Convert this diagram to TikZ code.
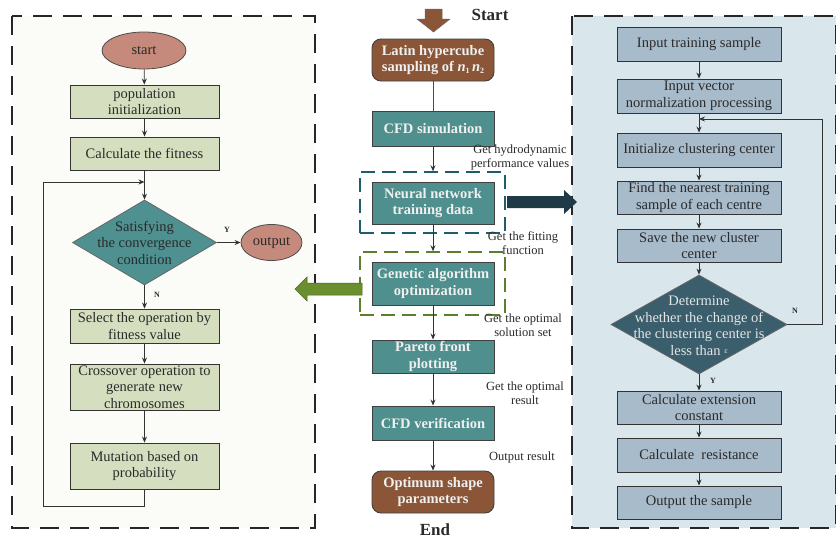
\documentclass[tikz,border=0pt]{standalone}
\usepackage{fontspec}
\setmainfont{Liberation Serif}
\usetikzlibrary{shapes.geometric,arrows.meta}
\definecolor{leftbg}{HTML}{FBFCF7}
\definecolor{rightbg}{HTML}{D9E6EC}
\definecolor{gfill}{HTML}{D5DFBF}
\definecolor{tealL}{HTML}{4E9190}
\definecolor{ellc}{HTML}{C58A7B}
\definecolor{tealM}{HTML}{4F8F8D}
\definecolor{brownM}{HTML}{8A5637}
\definecolor{bfill}{HTML}{A7BBCB}
\definecolor{rdiam}{HTML}{3A5E6C}
\definecolor{bluedashc}{HTML}{1F5C6E}
\definecolor{greendashc}{HTML}{5C7F2C}
\definecolor{darkarrow}{HTML}{1D3A46}
\definecolor{greenarrow}{HTML}{6B8F2F}
\definecolor{txtd}{HTML}{2A2A2A}
\newcommand{\fmain}{\fontsize{14.5pt}{16.5pt}\selectfont}
\newcommand{\flab}{\fontsize{12.5pt}{14pt}\selectfont}
\newcommand{\subn}[1]{\raisebox{-0.3ex}{\fontsize{8pt}{8pt}\selectfont #1}}
\begin{document}
\begin{tikzpicture}[x=1pt,y=-1pt,
  panel/.style={draw=black!85, line width=1.1pt, dash pattern=on 19pt off 11pt},
  gbox/.style={draw=black!80, line width=0.9pt, fill=gfill, minimum width=149pt, align=center, font=\fmain, inner sep=1pt, text=txtd},
  ellL/.style={ellipse, draw=black!70, line width=0.8pt, fill=ellc, minimum width=84pt, minimum height=37pt, inner sep=0pt, font=\fmain, text=txtd},
  diamL/.style={diamond, draw=black!60, line width=0.8pt, fill=tealL, inner sep=0pt},
  diamR/.style={diamond, draw=black!60, line width=0.8pt, fill=rdiam, inner sep=0pt},
  dtext/.style={align=center, font=\fmain, inner sep=0pt},
  tealbox/.style={draw=black!75, line width=0.9pt, fill=tealM, minimum width=122pt, align=center, font=\fmain\bfseries, text=white!94!black, inner sep=1pt},
  brownbox/.style={tealbox, fill=brownM, rounded corners=9pt, minimum height=42pt},
  bbox/.style={draw=black!80, line width=0.9pt, fill=bfill, minimum width=164pt, align=center, font=\fmain, inner sep=1pt, text=txtd},
  dashbox/.style={line width=1.4pt, dash pattern=on 14pt off 7pt, minimum width=145pt, inner sep=0pt},
  lab/.style={align=center, font=\flab, text=txtd, inner sep=0pt},
  yn/.style={font=\fontsize{8pt}{8pt}\selectfont\bfseries, text=txtd, inner sep=0pt},
  big/.style={font=\fontsize{17pt}{17pt}\selectfont\bfseries, text=txtd, inner sep=0pt},
  arr/.style={-{Stealth[length=6pt,width=5pt]}, line width=0.8pt, draw=black!80},
  ln/.style={line width=0.8pt, draw=black!70}]
\useasboundingbox (0,0) rectangle (837,538);
\fill[white] (0,0) rectangle (837,538);
% panels
\draw[panel, fill=leftbg] (12,16) rectangle (315,528);
\draw[panel, fill=rightbg] (572,16) rectangle (835.5,528);

% ---------- left flowchart ----------
\node[ellL] (start) at (144,50.5) {start};
\node[gbox, minimum height=33pt] (pop) at (144.5,101.5) {population\\initialization};
\node[gbox, minimum height=33pt] (fit) at (144.5,153.5) {Calculate the fitness};
\node[diamL, minimum width=144pt, minimum height=85pt] (cond) at (144.5,242.5) {};
\node[dtext, text=txtd] (condt) at (cond.center) {Satisfying\\the convergence\\condition};
\node[ellL, minimum width=61pt, minimum height=36pt] (out) at (271.5,242.5) {output};
\node[gbox, minimum height=34pt] (sel) at (144.5,326) {Select the operation by\\fitness value};
\node[gbox, minimum height=46pt] (cross) at (144.5,387) {Crossover operation to\\generate new\\chromosomes};
\node[gbox, minimum height=46pt] (mut) at (144.5,466) {Mutation based on\\probability};
\coordinate (loopL) at (43,182);
\draw[arr] (start) -- (pop);
\draw[arr] (pop) -- (fit);
\draw[arr] (fit) -- (cond);
\draw[arr] (cond) -- (out);
\node[yn] (ylab) at (227,230) {Y};
\draw[arr] (cond) -- (sel);
\node[yn] (nlab) at (157,295) {N};
\draw[arr] (sel) -- (cross);
\draw[arr] (cross) -- (mut);
\draw[arr] (mut.south) -- ++(0,17) -| (loopL) -- (fit.south |- loopL);

% ---------- middle flowchart ----------
\node[big] (startlbl) at (490,15) {Start};
\node[big] (endlbl) at (435,530) {End};
\fill[brownM, draw=black!60, line width=0.5pt] (425,9) -- (442,9) -- (442,19) -- (450,19) -- (433.5,32) -- (417,19) -- (425,19) -- cycle;
\node[brownbox] (lhs) at (433,60) {Latin hypercube\\sampling of \textit{n}\subn{1}\,\textit{n}\subn{2}};
\node[tealbox, minimum height=35pt] (cfd) at (433,128.5) {CFD simulation};
\node[dashbox, draw=bluedashc, minimum height=61pt] (bdash) at (432.5,202.5) {};
\node[tealbox, minimum height=42pt] (nn) at (433,203) {Neural network\\training data};
\node[dashbox, draw=greendashc, minimum height=63pt] (gdash) at (432.5,283.5) {};
\node[tealbox, minimum height=43pt] (ga) at (433,283.5) {Genetic algorithm\\optimization};
\node[tealbox, minimum height=33pt] (par) at (433,356.5) {Pareto front\\plotting};
\node[tealbox, minimum height=34pt] (ver) at (433,423) {CFD verification};
\node[brownbox] (opt) at (433,492) {Optimum shape\\parameters};
\draw[ln] (lhs) -- (cfd);
\draw[arr] (cfd.south) -- (cfd.south |- bdash.north);
\draw[arr] (nn.south) -- (nn.south |- gdash.north);
\draw[arr] (ga) -- (par);
\draw[arr] (par) -- (ver);
\draw[arr] (ver) -- (opt);
\node[lab] (l1) at (520,157.5) {Get hydrodynamic\\performance values};
\node[lab] (l2) at (523,243.5) {Get the fitting\\function};
\node[lab] (l3) at (523,325) {Get the optimal\\solution set};
\node[lab] (l4) at (525,393.5) {Get the optimal\\result};
\node[lab] (l5) at (522,457) {Output result};
% big arrows
\fill[darkarrow] (507,196) -- (564,196) -- (564,190) -- (577,202) -- (564,214) -- (564,208) -- (507,208) -- cycle;
\fill[greenarrow, draw=greendashc!80!black, line width=0.5pt] (362,283) -- (307,283) -- (307,277) -- (295,289) -- (307,301) -- (307,295) -- (362,295) -- cycle;

% ---------- right flowchart ----------
\node[bbox, minimum height=34pt] (r1) at (699,44) {Input training sample};
\node[bbox, minimum height=34pt] (r2) at (699,96) {Input vector\\normalization processing};
\node[bbox, minimum height=34pt] (r3) at (699,150) {Initialize clustering center};
\node[bbox, minimum height=33pt] (r4) at (699,197.5) {Find the nearest training\\sample of each centre};
\node[bbox, minimum height=33pt] (r5) at (699,245.5) {Save the new cluster\\center};
\node[diamR, minimum width=176pt, minimum height=99pt] (rd) at (699,324.5) {};
\node[dtext, text=white!90!black] (rdt) at (699,326) {Determine\\whether the change of\\the clustering center is\\less than \raisebox{0.35ex}{\fontsize{8pt}{8pt}\selectfont ε}};
\node[bbox, minimum height=33pt] (r6) at (699,407.5) {Calculate extension\\constant};
\node[bbox, minimum height=34pt] (r7) at (699,455) {Calculate\ \ resistance};
\node[bbox, minimum height=33pt] (r8) at (699,502.5) {Output the sample};
\coordinate (rloop) at (822,119);
\draw[arr] (r1) -- (r2);
\draw[arr] (r2) -- (r3);
\draw[arr] (r3) -- (r4);
\draw[arr] (r4) -- (r5);
\draw[arr] (r5) -- (rd);
\draw[arr] (rd) -- (r6);
\draw[arr] (r6) -- (r7);
\draw[arr] (r7) -- (r8);
\draw[arr] (rd.east) -| (rloop) -- (r2.south |- rloop);
\node[yn] (rn) at (795,311) {N};
\node[yn] (ry) at (713,381) {Y};
\end{tikzpicture}
\end{document}
